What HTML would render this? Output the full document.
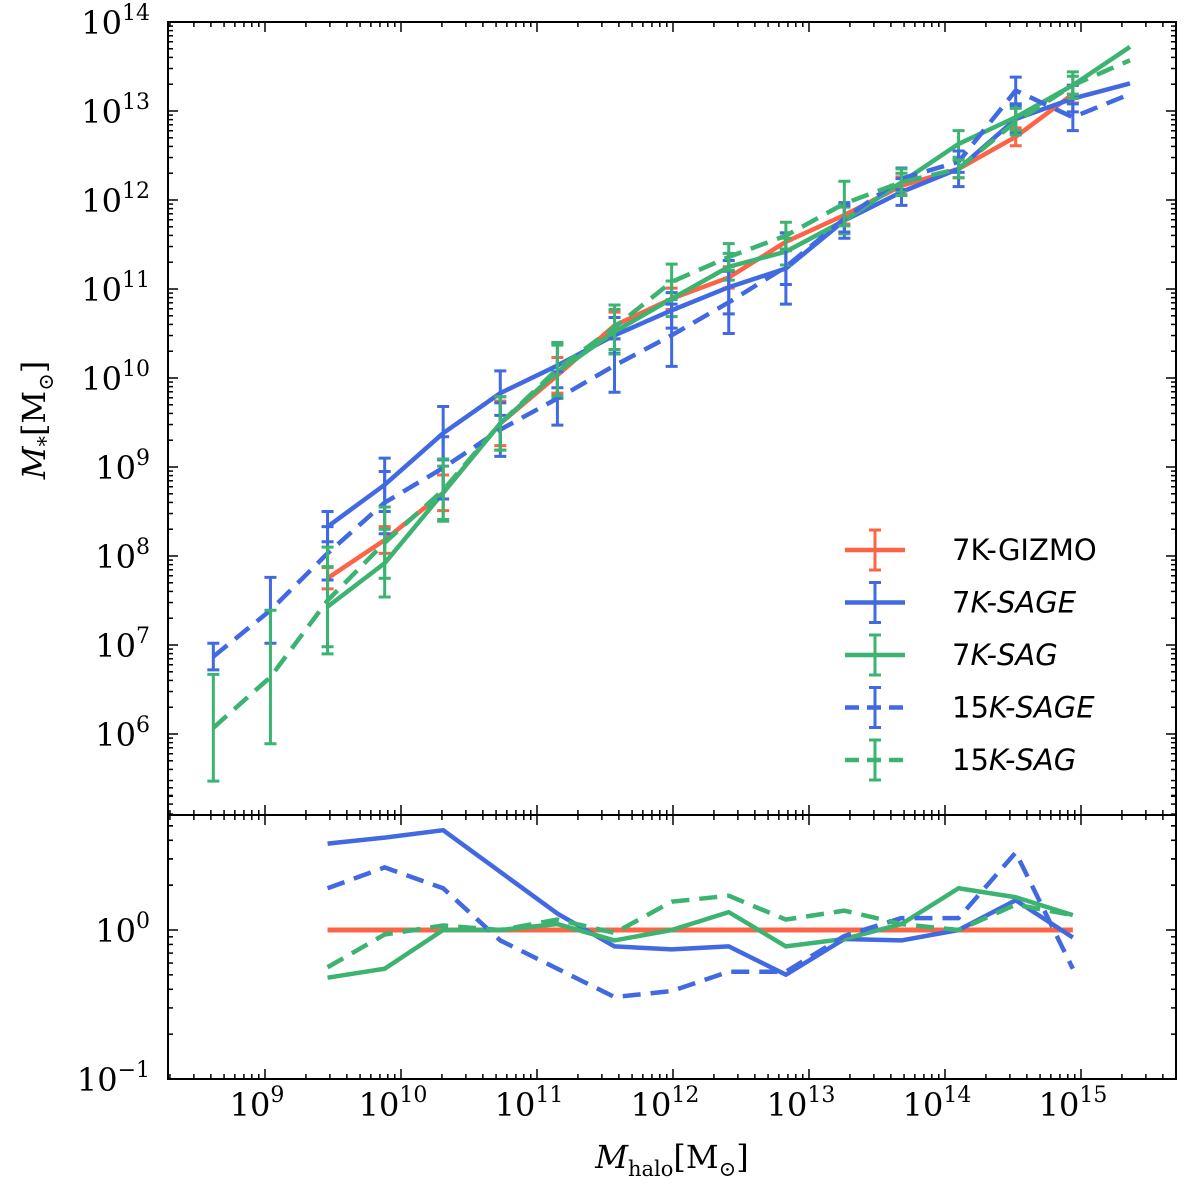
<!DOCTYPE html>
<html><head><meta charset="utf-8">
<style>
html,body{margin:0;padding:0;background:#fff;}
svg{display:block;}
text{font-family:"DejaVu Serif","Liberation Serif",serif;fill:#000;}
.leg{font-family:"DejaVu Sans","Liberation Sans",sans-serif;font-size:29px;}
</style></head>
<body>
<svg id="chart" width="1200" height="1200" viewBox="0 0 1200 1200" xmlns="http://www.w3.org/2000/svg">
<g id="topPanel"></g>
<g id="botPanel"></g>
<g id="legend"></g>
<text x="45" y="420" font-size="32" text-anchor="middle" transform="rotate(-90 45 420)"><tspan font-style="italic">M</tspan><tspan font-size="21" dy="8">*</tspan><tspan dy="-8">[M</tspan><tspan font-size="21" dy="8">⊙</tspan><tspan dy="-8">]</tspan></text>
<text x="672" y="1168" font-size="32" text-anchor="middle"><tspan font-style="italic">M</tspan><tspan font-size="21" dy="8">halo</tspan><tspan dy="-8">[M</tspan><tspan font-size="21" dy="8">⊙</tspan><tspan dy="-8">]</tspan></text>
</svg>
<script>
// ---- data (log10 values) ----
const binLogMhalo = [8.62,9.04,9.46,9.88,10.31,10.73,11.15,11.57,11.99,12.41,12.83,13.26,13.68,14.10,14.52,14.94,15.36];
const gizmo7k   = [null,null,7.75,8.18,8.71,9.49,10.03,10.59,10.89,11.13,11.53,11.83,12.16,12.35,12.71,13.19,null];
const sage7k    = [null,null,8.33,8.80,9.38,9.83,10.14,10.48,10.76,11.02,11.23,11.77,12.09,12.35,12.91,13.14,13.31];
const sag7k     = [null,null,7.43,7.92,8.71,9.49,10.07,10.52,10.89,11.25,11.42,11.77,12.20,12.63,12.93,13.29,13.72];
const sage15k   = [6.87,7.39,8.03,8.60,8.99,9.42,9.77,10.14,10.48,10.85,11.25,11.79,12.24,12.43,13.23,12.93,13.19];
const sag15k    = [6.07,6.64,7.50,8.15,8.74,9.49,10.10,10.57,11.08,11.36,11.60,11.96,12.20,12.35,12.88,13.29,13.57];
const gizmo7kErr = [0,0,0.12,0.15,0.2,0.25,0.2,0.15,0.12,0.12,0.1,0.1,0.1,0.1,0.1,0.1,0];
const sage7kErr  = [0,0,0.17,0.3,0.3,0.25,0.25,0.2,0.2,0.3,0.4,0.2,0.15,0.2,0.15,0.15,0];
const sag7kErr   = [0,0,0.45,0.38,0.3,0.3,0.3,0.25,0.2,0.15,0.15,0.15,0.1,0.15,0.15,0.1,0];
const sage15kErr = [0.15,0.37,0.3,0.35,0.35,0.3,0.3,0.3,0.35,0.35,0.2,0.15,0.12,0.12,0.15,0.15,0];
const sag15kErr  = [0.6,0.75,0.6,0.4,0.35,0.3,0.3,0.25,0.2,0.15,0.15,0.25,0.15,0.1,0.15,0.15,0];
const sage7kRatioSkip = [5];
const xTicks = [9,10,11,12,13,14,15];
const yTicksTop = [6,7,8,9,10,11,12,13,14];
const yTicksBot = [-1,0];

const NS="http://www.w3.org/2000/svg";
const L=168,R=1176,T=22,MID=815,B=1079;
const xs=v=>265+(v-9)*136;
const yTop=v=>T+(14-v)*(MID-T)/8.91;
const yBot=v=>930-v*149;
function el(tag,attrs,parent){const e=document.createElementNS(NS,tag);for(const k in attrs)e.setAttribute(k,attrs[k]);parent.appendChild(e);return e;}
const topG=document.getElementById('topPanel'),botG=document.getElementById('botPanel'),legG=document.getElementById('legend');

let f1=el('rect',{x:L,y:T,width:R-L,height:MID-T,fill:'none',stroke:'#000','stroke-width':2},topG);


let f2=el('rect',{x:L,y:MID,width:R-L,height:B-MID,fill:'none',stroke:'#000','stroke-width':2},botG);



const xmin=8.287,xmax=15.706;
for(let d=8;d<=15;d++){for(let m=1;m<10;m++){const v=d+Math.log10(m);if(v<xmin||v>xmax)continue;const x=xs(v);const len=m===1?10:5;
 [[T,1],[MID,-1],[MID,1],[B,-1]].forEach(([y0,s])=>{const t=el('line',{x1:x,x2:x,y1:y0,y2:y0+s*len,stroke:'#000','stroke-width':1.5},topG);
 
 });}}
xTicks.forEach(p=>{const t=el('text',{x:xs(p)-8,y:1116,'font-size':32,'text-anchor':'middle'},botG);t.innerHTML='10<tspan font-size="22" dy="-14">'+p+'</tspan>';
 
 });
const ytmin=5.09;
for(let d=5;d<14;d++){for(let m=1;m<10;m++){const v=d+Math.log10(m);if(v<ytmin||v>14)continue;const y=yTop(v);const len=m===1?10:5;
 [[L,1],[R,-1]].forEach(([x0,s])=>{const t=el('line',{x1:x0,x2:x0+s*len,y1:y,y2:y,stroke:'#000','stroke-width':1.5},topG);
 
 });}}
const yt14=el('line',{x1:L,x2:L+10,y1:T,y2:T,stroke:'#000','stroke-width':1.5},topG);


yTicksTop.forEach(p=>{const t=el('text',{x:150,y:yTop(p)+12,'font-size':32,'text-anchor':'end'},topG);t.innerHTML='10<tspan font-size="22" dy="-14">'+p+'</tspan>';
 
 });
for(let d=-1;d<1;d++){for(let m=1;m<10;m++){const v=d+Math.log10(m);const y=yBot(v);const len=m===1?10:5;
 [[L,1],[R,-1]].forEach(([x0,s])=>{const t=el('line',{x1:x0,x2:x0+s*len,y1:y,y2:y,stroke:'#000','stroke-width':1.5},botG);
 
 });}}
for(let m=2;m<=5;m++){const y=yBot(Math.log10(m));[[L,1],[R,-1]].forEach(([x0,s])=>{const t=el('line',{x1:x0,x2:x0+s*5,y1:y,y2:y,stroke:'#000','stroke-width':1.5},botG);
 
 });}
yTicksBot.forEach(p=>{const t=el('text',{x:150,y:yBot(p)+12,'font-size':32,'text-anchor':'end'},botG);t.innerHTML='10<tspan font-size="22" dy="-14">'+(p<0?'−1':p)+'</tspan>';
 
 });

const series=[
 {name:'7K-GIZMO',vals:gizmo7k,err:gizmo7kErr,color:'#fd6446',dash:null,key:'gizmo-7k'},
 {name:'7K-SAGE',vals:sage7k,err:sage7kErr,color:'#4169e1',dash:null,key:'sage-7k'},
 {name:'7K-SAG',vals:sag7k,err:sag7kErr,color:'#3cb371',dash:null,key:'sag-7k'},
 {name:'15K-SAGE',vals:sage15k,err:sage15kErr,color:'#4169e1',dash:'18,10',key:'sage-15k'},
 {name:'15K-SAG',vals:sag15k,err:sag15kErr,color:'#3cb371',dash:'18,10',key:'sag-15k'}];
series.forEach(s=>{
 const g=el('g',{},topG);
 
 
 s.vals.forEach((v,i)=>{if(v===null||!s.err[i])return;const x=xs(binLogMhalo[i]);const y1=yTop(v+s.err[i]),y2=yTop(v-s.err[i]);
  const e=el('path',{d:`M${x},${y1}V${y2}M${x-6},${y1}H${x+6}M${x-6},${y2}H${x+6}`,stroke:s.color,'stroke-width':3,fill:'none'},g);
  
  });
 const pts=s.vals.map((v,i)=>v===null?null:xs(binLogMhalo[i])+','+yTop(v)).filter(p=>p);
 const pl=el('polyline',{points:pts.join(' '),fill:'none',stroke:s.color,'stroke-width':4.5,'stroke-linejoin':'round'},g);
 if(s.dash)pl.setAttribute('stroke-dasharray',s.dash);
 
 
 const rp=[];gizmo7k.forEach((r,i)=>{if(r===null||s.vals[i]===null)return;if(s.key==='sage-7k'&&sage7kRatioSkip.includes(i))return;rp.push(xs(binLogMhalo[i])+','+yBot(s.vals[i]-r));});
 const rl=el('polyline',{points:rp.join(' '),fill:'none',stroke:s.color,'stroke-width':s.key==='gizmo-7k'?5:4.5,'stroke-linejoin':'round'},botG);
 if(s.dash)rl.setAttribute('stroke-dasharray',s.dash);
 
 
});
series.forEach((s,k)=>{const y=550+k*52.5;const g=el('g',{},legG);
 
 
 const ln=el('line',{x1:845,x2:905,y1:y,y2:y,stroke:s.color,'stroke-width':4.5},g);if(s.dash)ln.setAttribute('stroke-dasharray','14,8');
 el('path',{d:`M875,${y-20}V${y+20}M869,${y-20}H881M869,${y+20}H881`,stroke:s.color,'stroke-width':3},g);
 const t=el('text',{x:952,y:y+10,class:'leg'},g);
 const parts=s.name.split('-');
 if(s.key==='gizmo-7k')t.textContent=s.name;
 else{const num=parts[0].replace('K','');t.innerHTML=num+'<tspan font-style="italic">K-'+parts[1]+'</tspan>';}
});
</script>
</body></html>
